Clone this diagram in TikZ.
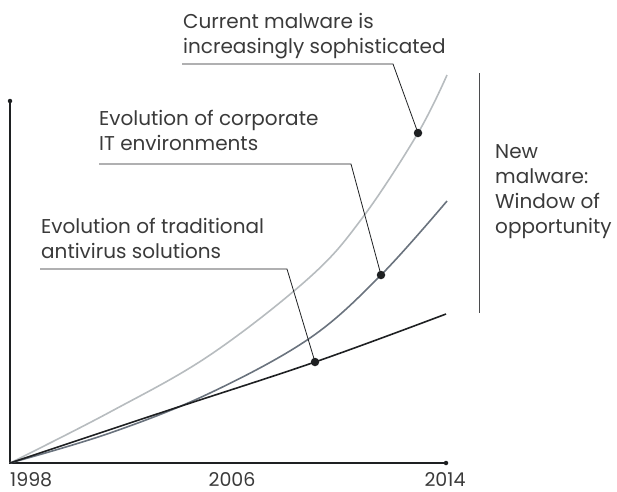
\documentclass[tikz,border=0pt]{standalone}
\usepackage{fontspec}
\setmainfont{Poppins}
\usepackage{tikz}
\usetikzlibrary{positioning}
\usetikzlibrary{calc}
\definecolor{lightcurve}{HTML}{B7BCBF}
\definecolor{midcurve}{HTML}{6A737E}
\definecolor{darkline}{HTML}{1E2022}
\definecolor{labeltext}{HTML}{3A3A3A}
\tikzset{lbl/.style={anchor=base west,align=left,inner sep=0pt,text=labeltext,font=\fontsize{20pt}{24.8pt}\selectfont}}
\tikzset{yearlbl/.style={inner sep=0pt,text=labeltext,font=\fontsize{19pt}{23pt}\selectfont}}
\tikzset{bigdot/.style={shape=circle,fill=darkline,inner sep=0pt,minimum size=8.5pt}}
\tikzset{enddot/.style={shape=circle,fill=darkline,inner sep=0pt,minimum size=4.5pt}}

\begin{document}
\begin{tikzpicture}[x=1pt,y=-1pt]
		\useasboundingbox (0,0) rectangle (617,491);
		% axes
		\coordinate (O) at (10,463);
		\node[enddot] (Y) at (10,101) {};
		\node[enddot] (X) at (446,463) {};
		\draw[darkline,line width=1.1pt] (Y.center) -- (O) -- (X.center);
		\node[yearlbl,anchor=base west] (Y1) at (10,486.5) {1998};
		\node[yearlbl,anchor=base] (Y2) at (232,486.5) {2006};
		\node[yearlbl,anchor=base] (Y3) at (445,486.5) {2014};
		% curves
		\coordinate (MD) at (418,133);
		\coordinate (ED) at (381,275);
		\coordinate (AD) at (315,362);
		\draw[lightcurve,line width=1.6pt] plot[smooth,tension=0.6] coordinates {(O) (110,412) (210,355) (310,277) (363,217) (MD) (447,75)};
		\draw[midcurve,line width=1.6pt] plot[smooth,tension=0.6] coordinates {(O) (110,433) (210,393) (310,338) (ED) (447,201)};
		\draw[darkline,line width=1.6pt] plot[smooth,tension=0.6] coordinates {(O) (160,413) (AD) (446,314)};
		% labels (base = last line)
		\node[lbl] (M) at (183,53) {Current malware is\\increasingly sophisticated};
		\node[lbl] (E) at (99,150) {Evolution of corporate\\IT environments};
		\node[lbl] (A) at (41,258) {Evolution of traditional\\antivirus solutions};
		\coordinate (MC) at (393,64);
		\coordinate (EC) at (351,164);
		\coordinate (AC) at (287,269);
		\draw[darkline,line width=0.8pt] (182,64) -- (MC) -- (MD);
		\draw[darkline,line width=0.8pt] (99,164) -- (EC) -- (ED);
		\draw[darkline,line width=0.8pt] (40,269) -- (AC) -- (AD);
		\node[bigdot] (MP) at (MD) {};
		\node[bigdot] (EP) at (ED) {};
		\node[bigdot] (AP) at (AD) {};
		% window of opportunity
		\draw[darkline!80,line width=1pt] (479,73) -- (479,313);
		\node[lbl] (W) at (495,233) {New\\malware:\\Window of\\opportunity};
	\end{tikzpicture}
\end{document}
